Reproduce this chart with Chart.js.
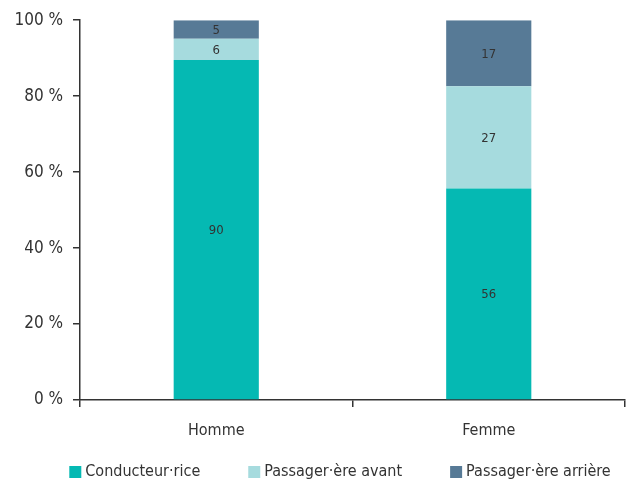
<!DOCTYPE html>
<html>
<head>
<meta charset="utf-8">
<script src="https://cdn.jsdelivr.net/npm/chart.js@4.4.1/dist/chart.umd.min.js"></script>
<style>
  html, body { margin: 0; padding: 0; background: #fff; }
  #wrap { width: 633px; height: 482px; }
</style>
</head>
<body>
<div id="wrap"><canvas id="chart"></canvas></div>
<script>
const categories = ['Homme', 'Femme'];
const seriesNames = ['Conducteur·rice', 'Passager·ère avant', 'Passager·ère arrière'];
const conducteur = [89.5, 55.7];
const passagerAvant = [5.6, 26.9];
const passagerArriere = [4.9, 17.4];
const colors = ['#05b9b3', '#a6dbde', '#577a96'];

const FONT = "'Liberation Sans Narrow', 'DejaVu Sans Condensed', sans-serif";
const INK = '#333333';

// draw the rounded value in the middle of each segment
const segmentLabels = {
    id: 'segmentLabels',
    afterDatasetsDraw(chart) {
        const ctx = chart.ctx;
        ctx.save();
        ctx.font = '13px ' + FONT;
        ctx.fillStyle = INK;
        ctx.textAlign = 'center';
        ctx.textBaseline = 'middle';
        chart.data.datasets.forEach((ds, i) => {
            chart.getDatasetMeta(i).data.forEach((bar, j) => {
                const p = bar.getCenterPoint();
                ctx.fillText(Math.round(ds.data[j]), p.x, p.y + 1);
            });
        });
        ctx.restore();
    }
};

// legend row under the axis, spaced like the original
const bottomLegend = {
    id: 'bottomLegend',
    afterDraw(chart) {
        const ctx = chart.ctx;
        const box = 12, gap = 4, spacing = 48, y = 472, center = 340;
        ctx.save();
        ctx.font = '16px ' + FONT;
        ctx.textBaseline = 'middle';
        const items = chart.data.datasets.map(ds => ({
            text: ds.label, color: ds.backgroundColor, w: ctx.measureText(ds.label).width
        }));
        const total = items.reduce((s, it) => s + box + gap + it.w, 0) + spacing * (items.length - 1);
        let x = center - total / 2;
        items.forEach(it => {
            ctx.fillStyle = it.color;
            ctx.fillRect(x, y - box / 2, box, box);
            ctx.fillStyle = INK;
            ctx.fillText(it.text, x + box + gap, y);
            x += box + gap + it.w + spacing;
        });
        ctx.restore();
    }
};

new Chart(document.getElementById('chart'), {
    type: 'bar',
    data: {
        labels: categories,
        datasets: [
            { label: seriesNames[0], data: conducteur, backgroundColor: colors[0] },
            { label: seriesNames[1], data: passagerAvant, backgroundColor: colors[1] },
            { label: seriesNames[2], data: passagerArriere, backgroundColor: colors[2] }
        ]
    },
    options: {
        responsive: true,
        maintainAspectRatio: false,
        animation: false,
        layout: { padding: { top: 13, right: 8, left: 0, bottom: 42 } },
        datasets: { bar: { categoryPercentage: 1, barPercentage: 0.3125 } },
        scales: {
            x: {
                stacked: true,
                offset: true,
                afterFit(scale) { scale.height = 40; },
                grid: { offset: true, drawOnChartArea: false, tickLength: 7, color: INK, lineWidth: 1.5 },
                border: { color: INK, width: 1.5 },
                ticks: { color: INK, font: { family: FONT, size: 16 }, padding: 14 }
            },
            y: {
                stacked: true,
                min: 0,
                max: 100,
                afterFit(scale) { scale.width = 80; },
                grid: { drawOnChartArea: false, tickLength: 7, color: INK, lineWidth: 1.5 },
                border: { color: INK, width: 1.5 },
                ticks: {
                    stepSize: 20,
                    color: INK,
                    padding: 10,
                    font: { family: FONT, size: 17 },
                    callback: v => v + ' %'
                }
            }
        },
        plugins: {
            tooltip: { enabled: false },
            legend: { display: false }
        }
    },
    plugins: [segmentLabels, bottomLegend]
});
</script>
</body>
</html>
